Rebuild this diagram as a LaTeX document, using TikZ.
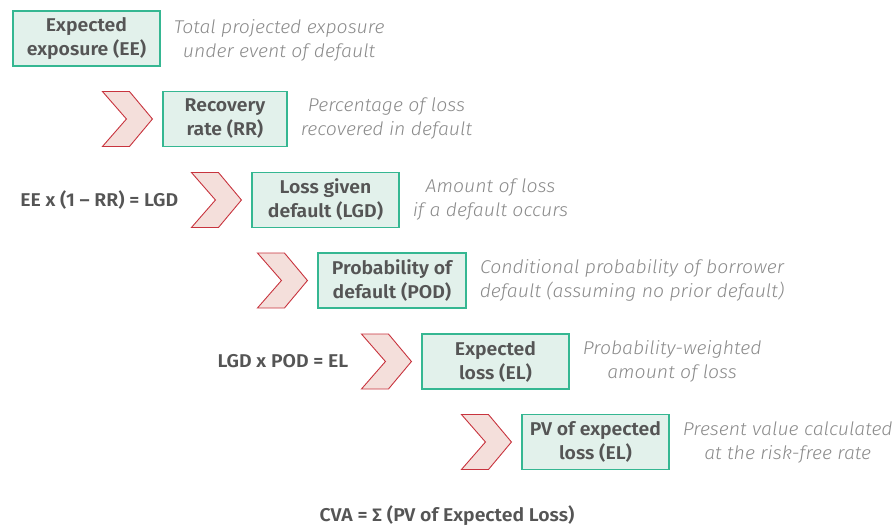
\documentclass[tikz,border=0pt]{standalone}
\usepackage{fontspec}
\setmainfont{Fira Sans}[BoldFont={Fira Sans SemiBold}, ItalicFont={Fira Sans Light Italic}, FakeStretch=1.05]
\definecolor{boxfill}{HTML}{E2F1EB}
\definecolor{boxline}{HTML}{35B792}
\definecolor{chevfill}{HTML}{F4DFDB}
\definecolor{chevline}{HTML}{C8343E}
\definecolor{ink}{HTML}{555555}
\definecolor{softink}{HTML}{8A8A8A}
\begin{document}
\begin{tikzpicture}[x=1pt, y=-1pt,
  stepbox/.style={draw=boxline, fill=boxfill, line width=1.1pt, minimum height=55pt,
    inner sep=0pt, align=center, text=ink, font=\fontsize{18.5}{24}\selectfont\bfseries},
  desc/.style={anchor=west, align=center, text=softink, inner sep=0pt,
    font=\fontsize{18.5}{24}\selectfont\itshape},
  formula/.style={anchor=east, inner sep=0pt, text=ink,
    font=\fontsize{18.5}{24}\selectfont\bfseries},
  chev/.pic={\draw[chevline, fill=chevfill, line width=0.9pt, line join=miter]
    (-60,-27.5) -- (-33,-27.5) -- (-10,0) -- (-33,27.5) -- (-60,27.5) -- (-36,0) -- cycle;}]
\useasboundingbox (0,0) rectangle (896,525);

% boxes of the chain
\node[stepbox, minimum width=147pt] (ee)  at (86.5,38.5)  {Expected\\exposure (EE)};
\node[stepbox, minimum width=124pt] (rr)  at (225,119)    {Recovery\\rate (RR)};
\node[stepbox, minimum width=147pt] (lgd) at (325.5,200)  {Loss given\\default (LGD)};
\node[stepbox, minimum width=148pt] (pod) at (392,280.5)  {Probability of\\default (POD)};
\node[stepbox, minimum width=147pt] (el)  at (495.5,361.5){Expected\\loss (EL)};
\node[stepbox, minimum width=147pt] (pv)  at (595.5,442)  {PV of expected\\loss (EL)};

% chevrons in front of each following step
\foreach \b in {rr,lgd,pod,el,pv} \pic at (\b.west) {chev};

% descriptions
\node[desc] (dee)  at ([xshift=13pt,yshift=-2pt]ee.east)  {Total projected exposure\\under event of default};
\node[desc] (drr)  at ([xshift=13pt]rr.east)  {Percentage of loss\\recovered in default};
\node[desc] (dlgd) at ([xshift=13pt]lgd.east) {Amount of loss\\if a default occurs};
\node[desc] (dpod) at ([xshift=13pt]pod.east) {Conditional probability of borrower\\default (assuming no prior default)};
\node[desc] (del)  at ([xshift=13pt]el.east)  {Probability-weighted\\amount of loss};
\node[desc] (dpv)  at ([xshift=13pt]pv.east)  {Present value calculated\\at the risk-free rate};

% formulas
\node[formula] (f1) at ([xshift=-73pt]lgd.west) {EE x (1 – RR) = LGD};
\node[formula] (f2) at ([xshift=-73pt]el.west)  {LGD x POD = EL};
\node[font=\fontsize{18.5}{24}\selectfont\bfseries, text=ink, inner sep=0pt] (cva) at (447,516)
  {CVA = ∑ (PV of Expected Loss)};
\end{tikzpicture}
\end{document}
